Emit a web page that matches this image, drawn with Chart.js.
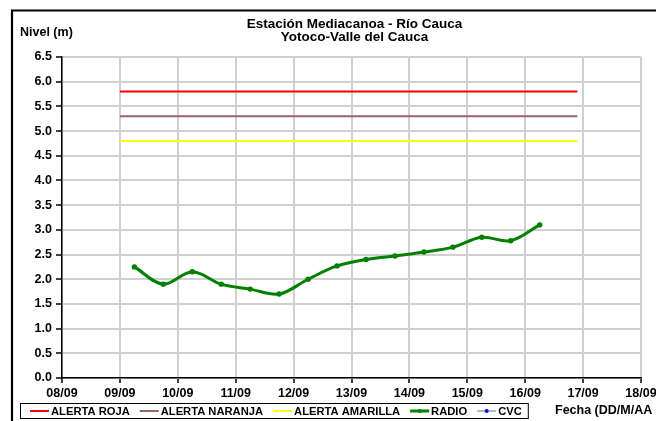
<!DOCTYPE html>
<html>
<head>
<meta charset="utf-8">
<script src="https://cdn.jsdelivr.net/npm/chart.js@4/dist/chart.umd.min.js"></script>
<style>
  html, body { margin: 0; padding: 0; background: #fff; }
</style>
</head>
<body>
<canvas id="graficoNivel" width="656" height="421"></canvas>
<script>
// datos
const fechas = ['08/09', '09/09', '10/09', '11/09', '12/09', '13/09', '14/09', '15/09', '16/09', '17/09', '18/09'];
const dias = [8, 9, 10, 11, 12, 13, 14, 15, 16, 17, 18];
const nivelTicks = [0, 0.5, 1, 1.5, 2, 2.5, 3, 3.5, 4, 4.5, 5, 5.5, 6, 6.5];

// lecturas cada 12 horas (06:00 y 18:00)
const radioDias = [9.25, 9.75, 10.25, 10.75, 11.25, 11.75, 12.25, 12.75, 13.25, 13.75, 14.25, 14.75, 15.25, 15.75, 16.25];
const radioNivel = [2.25, 1.9, 2.15, 1.9, 1.8, 1.7, 2.0, 2.27, 2.4, 2.47, 2.55, 2.65, 2.85, 2.78, 3.1];
const cvcDias = [];
const cvcNivel = [];

const alertaDias = [9, 16.9];
const alertaRoja = [5.8, 5.8];
const alertaNaranja = [5.3, 5.3];
const alertaAmarilla = [4.8, 4.8];

const fuente = '"Liberation Sans", Arial, sans-serif';

function puntos(xs, ys) {
  return xs.map((x, i) => ({ x: x, y: ys[i] }));
}

// marco, titulos y leyenda al estilo de la hoja de calculo
const decorado = {
  id: 'decorado',
  afterDraw(chart) {
    const ctx = chart.ctx;
    const area = chart.chartArea;
    ctx.save();

    // marco exterior
    ctx.strokeStyle = '#000';
    ctx.lineWidth = 2.2;
    ctx.beginPath();
    ctx.moveTo(12, 430);
    ctx.lineTo(12, 10.5);
    ctx.lineTo(670, 10.5);
    ctx.stroke();

    ctx.fillStyle = '#000';
    ctx.textBaseline = 'middle';

    // titulo
    ctx.font = 'bold 13.5px ' + fuente;
    ctx.textAlign = 'center';
    const centro = (area.left + area.right) / 2 + 3;
    ctx.fillText('Estación Mediacanoa - Río Cauca', centro, 24);
    ctx.fillText('Yotoco-Valle del Cauca', centro, 37);

    ctx.textAlign = 'left';
    ctx.font = 'bold 12.5px ' + fuente;
    ctx.fillText('Nivel (m)', 20, 33);
    ctx.fillText('Fecha (DD/M/AA', 555, 411);

    // leyenda
    ctx.font = 'bold 11.2px ' + fuente;
    const yLey = 411;
    let x = 30;
    chart.data.datasets.forEach((ds) => {
      ctx.strokeStyle = ds.borderColor;
      ctx.lineWidth = ds.borderWidth;
      ctx.beginPath();
      ctx.moveTo(x, yLey);
      ctx.lineTo(x + 19, yLey);
      ctx.stroke();
      if (ds.pointRadius > 0) {
        ctx.fillStyle = ds.pointBackgroundColor;
        ctx.beginPath();
        ctx.arc(x + 9.5, yLey, 2, 0, Math.PI * 2);
        ctx.fill();
      }
      ctx.fillStyle = '#000';
      ctx.fillText(ds.label, x + 21, yLey + 0.5);
      x += 21 + ctx.measureText(ds.label).width + 10;
    });
    ctx.strokeStyle = '#000';
    ctx.lineWidth = 1;
    ctx.strokeRect(20.5, 403.5, x - 10 + 6 - 20, 15);

    ctx.restore();
  }
};

new Chart(document.getElementById('graficoNivel').getContext('2d'), {
  type: 'line',
  data: {
    datasets: [
      {
        label: 'ALERTA ROJA',
        data: puntos(alertaDias, alertaRoja),
        borderColor: '#ff0000',
        borderWidth: 2,
        pointRadius: 0
      },
      {
        label: 'ALERTA NARANJA',
        data: puntos(alertaDias, alertaNaranja),
        borderColor: '#996666',
        borderWidth: 2,
        pointRadius: 0
      },
      {
        label: 'ALERTA AMARILLA',
        data: puntos(alertaDias, alertaAmarilla),
        borderColor: '#ffff00',
        borderWidth: 2,
        pointRadius: 0
      },
      {
        label: 'RADIO',
        data: puntos(radioDias, radioNivel),
        borderColor: '#008000',
        backgroundColor: '#008000',
        pointBackgroundColor: '#008000',
        pointBorderColor: '#008000',
        borderWidth: 3,
        pointRadius: 2.7,
        pointBorderWidth: 0,
        tension: 0.35
      },
      {
        label: 'CVC',
        data: puntos(cvcDias, cvcNivel),
        borderColor: '#b4b4c8',
        pointBackgroundColor: '#0000ff',
        borderWidth: 2,
        pointRadius: 2
      }
    ]
  },
  options: {
    responsive: false,
    animation: false,
    layout: { padding: { top: 57, right: 15, left: 0, bottom: 0 } },
    plugins: {
      legend: { display: false },
      title: { display: false },
      tooltip: { enabled: false }
    },
    scales: {
      x: {
        type: 'linear',
        min: dias[0],
        max: dias[dias.length - 1],
        afterBuildTicks: (scale) => { scale.ticks = dias.map((d) => ({ value: d })); },
        afterFit: (scale) => { scale.height = 43; scale.paddingRight = 0; },
        ticks: {
          color: '#000',
          padding: 3,
          maxRotation: 0,
          autoSkip: false,
          font: { family: fuente, size: 12.5, weight: 'bold' },
          callback: (v) => fechas[dias.indexOf(v)]
        },
        grid: { color: '#d0d0d0', lineWidth: 2, tickColor: '#000', tickLength: 5, tickWidth: 1.5 },
        border: { color: '#000', width: 1.5 }
      },
      y: {
        min: nivelTicks[0],
        max: nivelTicks[nivelTicks.length - 1],
        afterBuildTicks: (scale) => { scale.ticks = nivelTicks.map((v) => ({ value: v })); },
        afterFit: (scale) => { scale.width = 62; },
        ticks: {
          color: '#000',
          padding: 4,
          font: { family: fuente, size: 12.5, weight: 'bold' },
          callback: (v) => v.toFixed(1)
        },
        grid: { color: '#d0d0d0', lineWidth: 2, tickColor: '#000', tickLength: 6, tickWidth: 1.5 },
        border: { color: '#000', width: 1.5 }
      }
    }
  },
  plugins: [decorado]
});
</script>
</body>
</html>
